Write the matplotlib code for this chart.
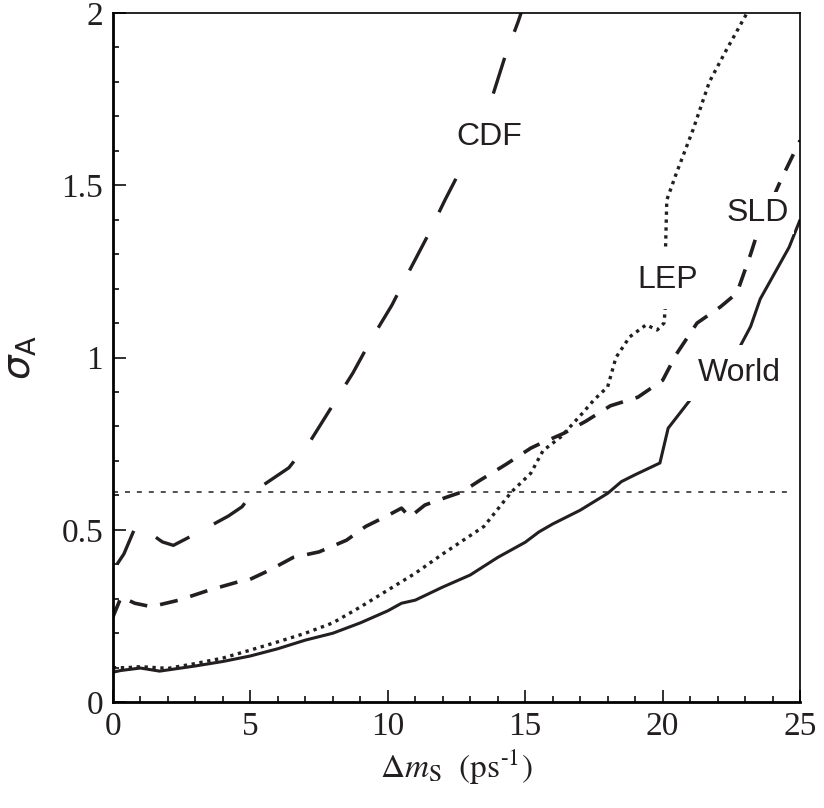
import matplotlib
matplotlib.use("Agg")
import matplotlib.pyplot as plt
from matplotlib.ticker import MultipleLocator

# ---------------------------------------------------------------------------
# Data
# ---------------------------------------------------------------------------
world_x = [0, 0.3, 1.0, 1.7, 3.0, 4.0, 5.0, 6.0, 7.0, 8.0, 9.0, 10.0, 10.5, 11.0,
           12.0, 13.0, 14.0, 15.0, 15.5, 16.0, 17.0, 18.0, 18.5, 19.0, 19.9, 20.2,
           21.0, 21.2, 22.0, 22.8, 23.2, 23.55, 24.6, 25.0]
world_y = [0.087, 0.092, 0.099, 0.090, 0.105, 0.118, 0.134, 0.155, 0.180, 0.200,
           0.230, 0.265, 0.287, 0.296, 0.334, 0.369, 0.420, 0.464, 0.494, 0.517,
           0.557, 0.606, 0.640, 0.660, 0.694, 0.795, 0.877, 0.890, 0.960, 1.030,
           1.090, 1.170, 1.320, 1.400]

lep_x = [0, 0.5, 1.0, 2.0, 3.0, 4.0, 5.0, 6.0, 7.0, 8.0, 9.0, 10.0, 11.0, 12.0,
         13.5, 14.5, 15.2, 15.65, 16.3, 17.1, 17.5, 18.0, 18.3, 18.8, 19.4, 19.8,
         20.05, 20.1, 20.1, 20.15, 20.5, 21.1, 21.7, 22.3, 23.07]
lep_y = [0.100, 0.100, 0.103, 0.098, 0.112, 0.128, 0.151, 0.175, 0.200, 0.230,
         0.276, 0.325, 0.374, 0.430, 0.510, 0.610, 0.664, 0.730, 0.770, 0.840,
         0.877, 0.915, 1.000, 1.060, 1.095, 1.080, 1.100, 1.150, 1.300, 1.457,
         1.535, 1.660, 1.800, 1.890, 2.000]

sld_x = [0, 0.3, 0.8, 1.4, 2.4, 3.5, 4.6, 4.9, 5.7, 6.56, 7.5, 8.5, 9.2, 9.96,
         10.5, 10.8, 11.35, 12.15, 12.7, 13.36, 14.3, 15.2, 15.54, 16.4, 17.2,
         18.1, 19.1, 20.0, 20.5, 21.25, 22.1, 22.7, 23.2, 23.4, 24.3, 25.0]
sld_y = [0.247, 0.305, 0.287, 0.277, 0.296, 0.325, 0.350, 0.353, 0.383, 0.420,
         0.436, 0.470, 0.510, 0.540, 0.563, 0.537, 0.572, 0.595, 0.610, 0.644,
         0.690, 0.737, 0.750, 0.780, 0.815, 0.860, 0.885, 0.934, 1.010, 1.100,
         1.147, 1.187, 1.300, 1.350, 1.515, 1.630]

cdf_x = [0.15, 0.4, 0.8, 1.0, 1.8, 2.2, 3.05, 4.2, 4.7, 5.1, 6.4, 7.2, 8.0, 8.73,
         9.43, 10.15, 10.8, 11.43, 12.08, 12.7, 13.8, 14.26, 14.74, 14.85]
cdf_y = [0.40, 0.43, 0.505, 0.51, 0.465, 0.455, 0.49, 0.54, 0.567, 0.61, 0.68,
         0.76, 0.862, 0.955, 1.057, 1.152, 1.254, 1.35, 1.457, 1.553, 1.756,
         1.872, 1.974, 2.0]

ref_level = 0.61
ref_x = [0, 24.7]

# label text and anchor (x, y) in data units
labels = ["CDF", "LEP", "SLD", "World"]
label_x = [13.7, 20.2, 23.45, 22.8]
label_y = [1.64, 1.225, 1.42, 0.955]
label_pad = [0.45, 0.45, 0.18, 0.4]

# ---------------------------------------------------------------------------
# Plot
# ---------------------------------------------------------------------------
plt.rcParams["lines.scale_dashes"] = False
plt.rcParams["mathtext.fontset"] = "stix"

fig = plt.figure(figsize=(8.24, 8.08), dpi=100)
ax = fig.add_axes([0.137, 0.131, 0.834, 0.853])

common = dict(color="#231f20", dash_capstyle="butt", solid_capstyle="butt")
ax.plot(world_x, world_y, lw=2.2, **common)
ax.plot(lep_x, lep_y, lw=2.4, dashes=(2.4, 3.3), **common)
ax.plot(sld_x, sld_y, lw=2.6, dashes=(13, 9.5), **common)
ax.plot(cdf_x, cdf_y, lw=2.4, dashes=(27, 20), **common)
ax.plot(ref_x, [ref_level, ref_level], lw=1.1, dashes=(3.6, 5.0), **common)

for txt, tx, ty, pad in zip(labels, label_x, label_y, label_pad):
    ax.text(tx, ty, txt, ha="center", va="center", fontsize=23,
            family="Liberation Sans", color="#231f20", zorder=5,
            bbox=dict(boxstyle=f"square,pad={pad}", fc="white", ec="none"))

ax.set_xlim(0, 25)
ax.set_ylim(0, 2)
ax.xaxis.set_major_locator(MultipleLocator(5))
ax.xaxis.set_minor_locator(MultipleLocator(1))
ax.yaxis.set_major_locator(MultipleLocator(0.5))
ax.yaxis.set_minor_locator(MultipleLocator(0.1))
ax.set_yticks([0, 0.5, 1, 1.5, 2])
ax.set_yticklabels(["0", "0.5", "1", "1.5", "2"])

ax.tick_params(which="both", direction="in", top=False, right=False,
               width=1.3, colors="#231f20", labelsize=24)
ax.tick_params(which="major", length=9, pad=7)
ax.tick_params(which="minor", length=4.5)
for lab in ax.get_xticklabels() + ax.get_yticklabels():
    lab.set_family("Liberation Serif")

for side in ("left", "bottom"):
    ax.spines[side].set_linewidth(2.0)
for side in ("top", "right"):
    ax.spines[side].set_linewidth(1.2)

ax.set_xlabel(r"$\Delta m_{\rm S}\ \ ({\rm ps}^{\text{-1}})$", fontsize=24,
              color="#231f20", labelpad=4)
ax.set_ylabel(r"$\sigma_{\rm A}$", fontsize=28, color="#231f20", labelpad=16,
              math_fontfamily="dejavusans")

fig.savefig("out.png", dpi=100)
